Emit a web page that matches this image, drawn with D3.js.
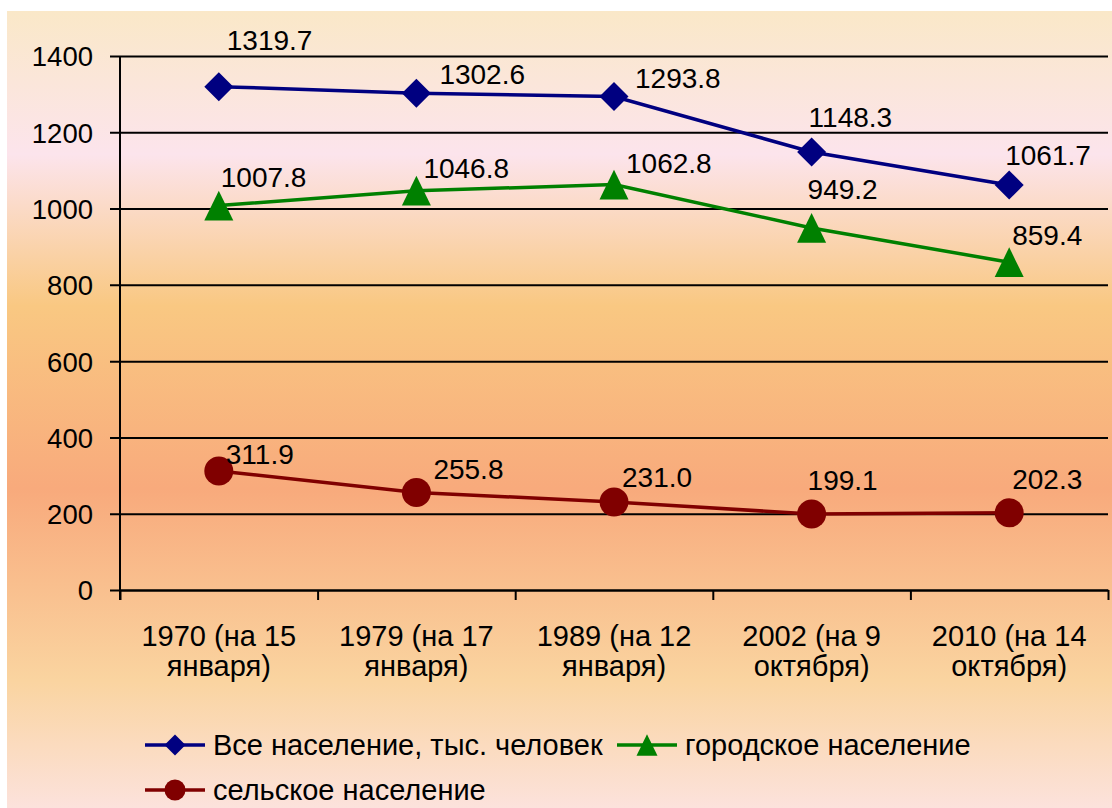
<!DOCTYPE html>
<html>
<head>
<meta charset="utf-8">
<script src="https://cdn.jsdelivr.net/npm/d3@7"></script>
<style>
  body { margin: 0; background: #fff; }
  svg text { font-family: "Liberation Sans", Arial, sans-serif; fill: #000; }
</style>
</head>
<body>
<div id="chart"></div>
<script>
// Data
const categories = [
  ["1970 (на 15", "января)"],
  ["1979 (на 17", "января)"],
  ["1989 (на 12", "января)"],
  ["2002 (на 9", "октября)"],
  ["2010 (на 14", "октября)"]
];
const totalValues = [1319.7, 1302.6, 1293.8, 1148.3, 1061.7];
const urbanValues = [1007.8, 1046.8, 1062.8, 949.2, 859.4];
const ruralValues = [311.9, 255.8, 231.0, 199.1, 202.3];
const seriesNames = ["Все население, тыс. человек", "городское население", "сельское население"];
const yTicks = [0, 200, 400, 600, 800, 1000, 1200, 1400];

// label nudges [dx, dy] from the point, as placed in the original
const labelNudge = [
  [[8, -37], [23, -9], [21, -9], [-3, -25], [-4, -20]],
  [[2, -19], [7, -13], [12, -12], [-4, -29], [3, -17]],
  [[7, -7], [17, -13], [8, -15], [-4, -24], [3, -24]]
];

const width = 1112;
const height = 808;
const margin = { top: 56, right: 4, bottom: 218, left: 120 };

const svg = d3.select("#chart").append("svg")
  .attr("width", width)
  .attr("height", height);

// background gradient
const defs = svg.append("defs");
const grad = defs.append("linearGradient")
  .attr("id", "bg")
  .attr("x1", 0).attr("y1", 0).attr("x2", 0).attr("y2", 1);
[
  [0, "#fae8c8"], [0.18, "#fce4ec"], [0.37, "#f9c882"],
  [0.6, "#f8aa7c"], [0.84, "#fad4a0"], [1, "#fce2dc"]
].forEach(s => grad.append("stop").attr("offset", s[0]).attr("stop-color", s[1]));

svg.append("rect")
  .attr("x", 7).attr("y", 11)
  .attr("width", width - 7).attr("height", height - 11)
  .attr("fill", "url(#bg)");

// Scales
const x = d3.scaleBand()
  .domain(d3.range(categories.length))
  .range([margin.left, width - margin.right])
  .padding(0);
const xEdge = d3.scaleLinear()
  .domain([0, categories.length])
  .range([margin.left, width - margin.right]);
const y = d3.scaleLinear()
  .domain([0, 1400])
  .range([height - margin.bottom, margin.top]);

const cx = i => x(i) + x.bandwidth() / 2;

// gridlines (with 10px outside tick)
const grid = svg.append("g")
  .attr("transform", `translate(${margin.left - 10},0)`)
  .call(d3.axisLeft(y).tickValues(yTicks).tickSize(-(width - margin.right - margin.left + 10)).tickFormat(""));
grid.select(".domain").remove();
grid.selectAll(".tick line").attr("stroke", "#000").attr("stroke-width", 2);

// y labels
const yAxis = svg.append("g")
  .attr("transform", `translate(${margin.left},0)`)
  .call(d3.axisLeft(y).tickValues(yTicks).tickSize(0).tickPadding(27).tickFormat(d3.format("d")));
yAxis.select(".domain").remove();
yAxis.selectAll("text")
  .attr("font-size", "27.5px")
  .attr("font-family", "'Liberation Sans', Arial, sans-serif")
  .attr("fill", "#000")
  .attr("dy", "0.36em");

// x axis with ticks at category boundaries
const xAxis = svg.append("g")
  .attr("transform", `translate(0,${y(0)})`)
  .call(d3.axisBottom(xEdge).tickValues(d3.range(categories.length + 1)).tickSize(10).tickSizeOuter(0).tickFormat(""));
xAxis.select(".domain").attr("stroke", "#000").attr("stroke-width", 2);
xAxis.selectAll(".tick line").attr("stroke", "#000").attr("stroke-width", 2);

// vertical axis line
svg.append("line")
  .attr("x1", margin.left).attr("x2", margin.left)
  .attr("y1", y(1400)).attr("y2", y(0) + 10)
  .attr("stroke", "#000").attr("stroke-width", 2);

// category labels
categories.forEach((lines, i) => {
  const t = svg.append("text")
    .attr("text-anchor", "middle")
    .attr("font-size", "29px");
  lines.forEach((ln, k) => {
    t.append("tspan")
      .attr("x", cx(i))
      .attr("y", y(0) + 56 + k * 30)
      .text(ln);
  });
});

// symbols
const colors = ["#000080", "#008000", "#800000"];
const series = [totalValues, urbanValues, ruralValues];

function drawMarker(g, k, px, py, s) {
  if (k === 0) {
    g.append("path")
      .attr("d", `M${px},${py - s}L${px + s},${py}L${px},${py + s}L${px - s},${py}Z`)
      .attr("fill", colors[k]);
  } else if (k === 1) {
    const h = s * 2.05;
    g.append("path")
      .attr("d", `M${px},${py - h / 2}L${px + s},${py + h / 2}L${px - s},${py + h / 2}Z`)
      .attr("fill", colors[k]);
  } else {
    g.append("circle")
      .attr("cx", px).attr("cy", py).attr("r", s)
      .attr("fill", colors[k]);
  }
}

const line = d3.line()
  .x((d, i) => cx(i))
  .y(d => y(d));

series.forEach((vals, k) => {
  const g = svg.append("g");
  g.append("path")
    .datum(vals)
    .attr("fill", "none")
    .attr("stroke", colors[k])
    .attr("stroke-width", 3.5)
    .attr("d", line);
  vals.forEach((v, i) => drawMarker(g, k, cx(i), y(v), 14.5));
  vals.forEach((v, i) => {
    g.append("text")
      .attr("x", cx(i) + labelNudge[k][i][0])
      .attr("y", y(v) + labelNudge[k][i][1])
      .attr("font-size", "28px")
      .text(v.toFixed(1));
  });
});

// legend
const legendItems = [
  { k: 0, x: 145, y: 745 },
  { k: 1, x: 617, y: 745 },
  { k: 2, x: 145, y: 790 }
];
legendItems.forEach(it => {
  const g = svg.append("g");
  g.append("line")
    .attr("x1", it.x).attr("x2", it.x + 60)
    .attr("y1", it.y).attr("y2", it.y)
    .attr("stroke", colors[it.k]).attr("stroke-width", 3.5);
  drawMarker(g, it.k, it.x + 30, it.y, 10.5);
  g.append("text")
    .attr("x", it.x + 68)
    .attr("y", it.y + 10)
    .attr("font-size", "29px")
    .text(seriesNames[it.k]);
});
</script>
</body>
</html>
